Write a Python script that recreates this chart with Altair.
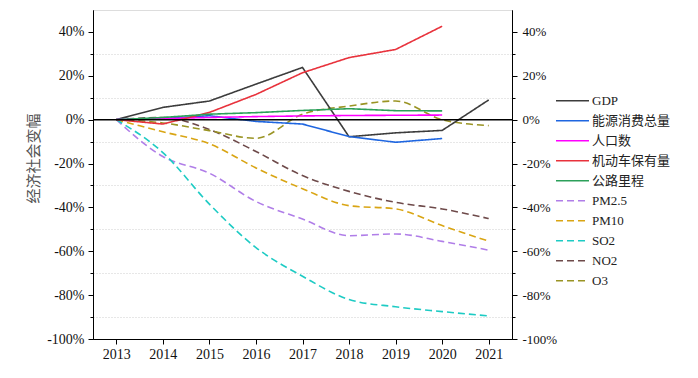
import altair as alt
import pandas as pd

years = [2013, 2014, 2015, 2016, 2017, 2018, 2019, 2020, 2021]
series_names = ["GDP", "能源消费总量", "人口数", "机动车保有量", "公路里程",
                "PM2.5", "PM10", "SO2", "NO2", "O3"]
colors = ["#3c3c3c", "#1f66e0", "#ff00ff", "#e8323c", "#2ca05a",
          "#b07ee8", "#d9a514", "#1ecbc4", "#6e4a4a", "#9a9424"]

gdp = [0, 5.6, 8.5, 16.2, 23.8, -7.8, -6.0, -4.9, 9.0]
energy = [0, 0.5, 1.8, -0.8, -2.0, -7.7, -10.3, -8.6]
population = [0, 0.5, 1.0, 1.4, 1.7, 1.9, 2.0, 2.1]
vehicles = [0, -2.0, 3.3, 11.5, 21.4, 28.3, 32.0, 42.6]
highway = [0, 1.0, 2.5, 3.2, 4.2, 5.0, 4.1, 4.0]
pm25 = [0, -16.8, -24.4, -37.3, -45.3, -52.9, -52.1, -55.5, -59.5]
pm10 = [0, -5.5, -11.0, -22.0, -31.5, -39.2, -40.7, -48.3, -55.4]
so2 = [0, -15.0, -38.5, -58.3, -71.4, -82.0, -85.3, -87.5, -89.5]
no2 = [0, 1.0, -4.5, -14.5, -25.5, -32.7, -37.7, -40.7, -45.1]
o3 = [0, -1.5, -5.0, -8.5, 2.5, 6.2, 8.5, 0.0, -2.7]

major_ticks = [-100, -80, -60, -40, -20, 0, 20, 40]
minor_ticks = [-90, -70, -50, -30, -10, 10, 30]

all_series = [gdp, energy, population, vehicles, highway, pm25, pm10, so2, no2, o3]
rows = []
for name, vals in zip(series_names, all_series):
    for yr, v in zip(years, vals):
        rows.append({"year": yr, "value": v, "series": name,
                     "kind": "solid" if name in series_names[:5] else "dashed"})
df = pd.DataFrame(rows)
zero_df = pd.DataFrame({"value": [0]})

SERIF = "Liberation Serif, Noto Sans CJK SC"
dashes = [[1, 0]] * 5 + [[7, 4]] * 5

xscale = alt.Scale(domain=[2012.5, 2021.5], nice=False, zero=False)
yscale = alt.Scale(domain=[-100, 50], nice=False, zero=False)

x_enc = alt.X("year:Q", scale=xscale, title=None,
              axis=alt.Axis(values=years, format="d", grid=False, tickSize=5,
                            labelFontSize=14, labelFont=SERIF, labelColor="#111",
                            labelPadding=3, domainColor="black", tickColor="black",
                            labelFlush=False))

legend = alt.Legend(orient="none", legendX=462, legendY=81, title=None,
                    symbolType="stroke", symbolSize=1089, symbolStrokeWidth=1.6,
                    labelFont=SERIF, labelFontSize=13, labelColor="#222",
                    labelOffset=2, rowPadding=0, clipHeight=19.5, padding=0,
                    labelLimit=200)

color_enc = alt.Color("series:N", scale=alt.Scale(domain=series_names, range=colors),
                      legend=legend, sort=series_names)
dash_enc = alt.StrokeDash("series:N", scale=alt.Scale(domain=series_names, range=dashes),
                          legend=legend, sort=series_names)

left_major = alt.Axis(orient="left", values=major_ticks, labelExpr="datum.value + '%'",
                      grid=False, tickSize=5, labelFontSize=14, labelFont=SERIF,
                      labelColor="#111", labelPadding=4, domainColor="black",
                      tickColor="black", title="经济社会变幅", titleFont="Noto Sans CJK SC",
                      titleFontSize=15, titleFontWeight="normal", titleColor="#555",
                      titleX=-60, titleY=148, titleAlign="center", titleBaseline="middle",
                      labelFlush=False)
right_major = alt.Axis(orient="right", values=major_ticks, labelExpr="datum.value + '%'",
                       grid=False, tickSize=5, labelFontSize=13, labelFont=SERIF,
                       labelColor="#111", labelPadding=5, domainColor="black",
                       tickColor="black", title=None, labelFlush=False)
left_minor = alt.Axis(orient="left", values=minor_ticks, labels=False, tickSize=3,
                      grid=True, gridColor="#cfcfcf", gridDash=[1, 2], gridWidth=1,
                      domainColor="black", tickColor="black", title=None)
right_minor = alt.Axis(orient="right", values=minor_ticks, labels=False, tickSize=3,
                       grid=False, domainColor="black", tickColor="black", title=None)

base = alt.Chart(df)

solid = base.transform_filter(alt.datum.kind == "solid").mark_line(
    strokeWidth=1.6, interpolate="linear").encode(
    x=x_enc,
    y=alt.Y("value:Q", scale=yscale, axis=left_major),
    color=color_enc, strokeDash=dash_enc, order="year:Q")

dashed = base.transform_filter(alt.datum.kind == "dashed").mark_line(
    strokeWidth=1.6, interpolate="monotone").encode(
    x=x_enc,
    y=alt.Y("value:Q", scale=yscale, axis=right_major),
    color=color_enc, strokeDash=dash_enc, order="year:Q")

grid_layer = alt.Chart(zero_df).mark_rule(color="#cfcfcf", strokeWidth=0).encode(
    y=alt.Y("value:Q", scale=yscale, axis=left_minor))

zero_rule = alt.Chart(zero_df).mark_rule(color="black", strokeWidth=1.5).encode(
    y=alt.Y("value:Q", scale=yscale, axis=right_minor))

chart = alt.layer(grid_layer, dashed, solid, zero_rule).resolve_axis(
    y="independent").resolve_scale(y="shared").properties(
    width=419, height=329,
    autosize=alt.AutoSizeParams(type="none"),
    padding={"left": 85, "top": 2, "right": 178, "bottom": 31},
).configure_view(stroke="black", strokeWidth=1.2).configure(background="white")

chart.save("out.html", embed_options={"renderer": "svg", "actions": False})
